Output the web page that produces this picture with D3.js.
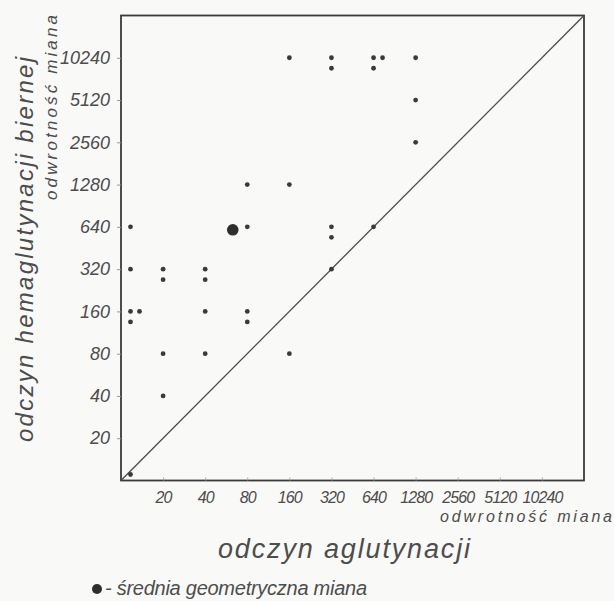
<!DOCTYPE html>
<html>
<head>
<meta charset="utf-8">
<script src="https://cdn.jsdelivr.net/npm/d3@7/dist/d3.min.js"></script>
<style>
  html, body { margin: 0; padding: 0; background: #f9f9f7; }
  svg { display: block; }
  text { font-family: "Liberation Sans", "DejaVu Sans", sans-serif; font-style: italic; fill: #4d4d4d; }
</style>
</head>
<body>
<svg id="chart" width="614" height="601"></svg>
<script>
// Titres (reciprocal dilutions) shown on both axes
const tickTitres = [20, 40, 80, 160, 320, 640, 1280, 2560, 5120, 10240];

// Individual sera: agglutination titre vs passive haemagglutination titre
const aglutTitres = [160, 320, 320, 640, 640, 640, 1280, 1280, 1280,
                     80, 160, 10, 80, 320, 320, 640,
                     10, 20, 20, 40, 40, 320,
                     10, 10, 10, 40, 80, 80,
                     20, 40, 160, 20, 10];
const hemaglutTitres = [10240, 10240, 10240, 10240, 10240, 10240, 10240, 5120, 2560,
                        1280, 1280, 640, 640, 640, 640, 640,
                        320, 320, 320, 320, 320, 320,
                        160, 160, 160, 160, 160, 160,
                        80, 80, 80, 40, 10];

// Geometric mean titre of the group
const meanAglut = [63];
const meanHemaglut = [610];

// Axis texts
const xTitle = ["odczyn aglutynacji"];
const yTitle = ["odczyn hemaglutynacji biernej"];
const unitLabel = ["odwrotność miana"];
const legendLabel = ["- średnia geometryczna miana"];

const svg = d3.select("#chart");
const ink = "#3a3a3a";

const x = d3.scaleLog().base(2).domain([10, 20480]).range([121, 584]);
const y = d3.scaleLog().base(2).domain([10, 20480]).range([480.5, 15.5]);

// frame
const [x0, x1] = x.range();
const [y0, y1] = y.range();
svg.append("rect")
  .attr("x", x0).attr("y", y1)
  .attr("width", x1 - x0).attr("height", y0 - y1)
  .attr("fill", "none").attr("stroke", ink).attr("stroke-width", 1.8);

// axes (labels + short ticks)
const yAxis = d3.axisLeft(y).tickValues(tickTitres).tickSize(4).tickPadding(7)
  .tickFormat(d3.format("d"));
const gy = svg.append("g").attr("transform", `translate(${x0},0)`).call(yAxis);
gy.select(".domain").remove();
gy.selectAll(".tick line").attr("stroke", "#999").attr("stroke-width", 1);
gy.selectAll(".tick text").attr("font-size", 18).attr("font-family", null)
  .attr("fill", "#4d4d4d");

const xAxis = d3.axisBottom(x).tickValues(tickTitres).tickSize(-3).tickPadding(11)
  .tickFormat(d3.format("d"));
const gx = svg.append("g").attr("transform", `translate(0,${y0})`).call(xAxis);
gx.select(".domain").remove();
gx.selectAll(".tick line").attr("stroke", "#aaa").attr("stroke-width", 1);
gx.selectAll(".tick text").attr("font-size", 16).attr("font-family", null)
  .attr("fill", "#4d4d4d").attr("letter-spacing", -0.9);

// line of equal titres
svg.append("line")
  .attr("x1", x(10)).attr("y1", y(10))
  .attr("x2", x(20480)).attr("y2", y(20480))
  .attr("stroke", "#4a4a4a").attr("stroke-width", 1.3);

// points; repeated pairs are nudged apart (below, then to the right)
const slotOffsets = [[0, 0], [0, 10.5], [9, 0]];
const seen = new Map();
const pts = aglutTitres.map((a, i) => {
  const h = hemaglutTitres[i];
  const key = a + "|" + h;
  const k = seen.get(key) || 0;
  seen.set(key, k + 1);
  const [dx, dy] = slotOffsets[k % slotOffsets.length];
  // titres at the axis minimum are drawn just inside the frame
  const px = x(a) + (a === 10 ? 9.5 : 0) + dx;
  const py = y(h) - (h === 10 ? 6 : 0) + dy;
  return { px, py };
});
svg.append("g").selectAll("circle").data(pts).join("circle")
  .attr("cx", d => d.px).attr("cy", d => d.py)
  .attr("r", 2.4).attr("fill", ink);

// geometric mean marker
svg.append("circle")
  .attr("cx", x(meanAglut[0])).attr("cy", y(meanHemaglut[0]))
  .attr("r", 5.8).attr("fill", "#2e2e2e");

// titles
svg.append("text")
  .attr("x", 218).attr("y", 558)
  .attr("font-size", 27).attr("textLength", 252).attr("lengthAdjust", "spacing")
  .text(xTitle[0]);

svg.append("text")
  .attr("x", 440).attr("y", 522)
  .attr("font-size", 16).attr("textLength", 172).attr("lengthAdjust", "spacing")
  .text(unitLabel[0]);

svg.append("text")
  .attr("transform", "translate(33,442) rotate(-90)")
  .attr("font-size", 24).attr("textLength", 385).attr("lengthAdjust", "spacing")
  .text(yTitle[0]);

svg.append("text")
  .attr("transform", "translate(57,200) rotate(-90)")
  .attr("font-size", 17).attr("textLength", 185).attr("lengthAdjust", "spacing")
  .text(unitLabel[0]);

// legend
svg.append("circle").attr("cx", 97).attr("cy", 589).attr("r", 5).attr("fill", "#2e2e2e");
svg.append("text")
  .attr("x", 105).attr("y", 595)
  .attr("font-size", 20).attr("textLength", 262).attr("lengthAdjust", "spacing")
  .text(legendLabel[0]);
</script>
</body>
</html>
